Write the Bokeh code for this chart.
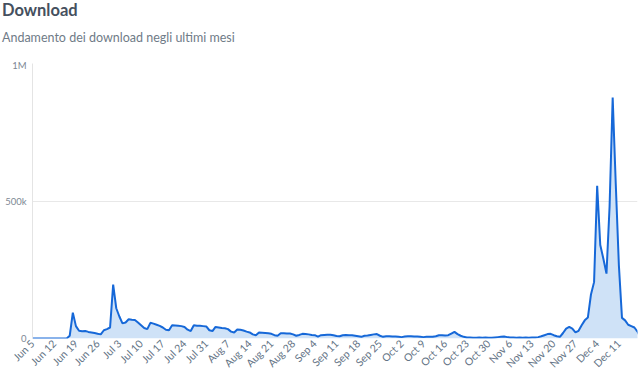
import datetime as dt
from bokeh.plotting import figure
from bokeh.models import Div, FixedTicker, DatetimeTickFormatter, Range1d, ColumnDataSource
from bokeh.layouts import column
from bokeh.embed import file_html
from bokeh.resources import INLINE

start_date = dt.date(2017, 6, 5)
end_date = dt.date(2017, 12, 17)

downloads_k = [
    0, 0, 0, 0, 0, 0, 0, 0, 0, 0, 0, 0, 10, 94, 45, 28, 26, 27, 24, 22, 20, 17,
    15, 30, 34, 40, 196, 110, 80, 55, 58, 70, 68, 67, 58, 48, 38, 34, 57, 54,
    50, 46, 40, 32, 30, 48, 47, 46, 45, 42, 32, 27, 48, 46, 46, 45, 44, 30, 27,
    42, 40, 38, 37, 34, 25, 22, 33, 32, 29, 25, 22, 15, 12, 22, 21, 20, 19, 17,
    12, 10, 19, 19, 18, 18, 15, 10, 13, 17, 16, 15, 13, 12, 7, 12, 13, 14, 14,
    12, 9, 8, 12, 13, 12, 12, 10, 8, 6, 10, 11, 13, 15, 16, 10, 6, 8, 8, 7, 7,
    6, 5, 7, 8, 8, 7, 7, 6, 5, 6, 6, 6, 8, 12, 12, 11, 12, 18, 24, 16, 10, 6, 4,
    4, 3, 3, 4, 3, 4, 3, 3, 4, 5, 6, 7, 5, 4, 4, 3, 4, 3, 4, 3, 4, 4, 5, 8, 12,
    16, 17, 12, 8, 6, 20, 36, 42, 36, 22, 28, 48, 66, 76, 160, 205, 555, 340,
    290, 236, 480, 876, 560, 266, 75, 66, 50, 45, 40, 25, 3,
]

dates = [start_date + dt.timedelta(days=i) for i in range(len(downloads_k))]
values = [v * 1000 for v in downloads_k]

tick_dates = [start_date + dt.timedelta(days=7 * i) for i in range(28)]
y_ticks = [0, 500000, 1000000]
y_tick_labels = {0: "0", 500000: "500k", 1000000: "1M"}

title_text = "Download"
subtitle_text = "Andamento dei download negli ultimi mesi"

header = Div(
    text=(
        '<div style="font-family:Lato;margin:0;padding:0">'
        '<div style="margin:0 0 0 2px;font-size:16.5px;line-height:20px;font-weight:bold;'
        'color:#45505e;white-space:nowrap">' + title_text + '</div>'
        '<div style="margin:10px 0 0 2px;font-size:12.5px;line-height:15px;font-weight:normal;'
        'color:#6f7b87;white-space:nowrap">' + subtitle_text + '</div>'
        '</div>'
    ),
    width=640, height=59, margin=(0, 0, 0, 0),
)

src = ColumnDataSource(dict(x=[dt.datetime.combine(d, dt.time()) for d in dates], y=values))

p = figure(width=640, height=317, x_axis_type="datetime", output_backend="svg",
           toolbar_location=None, title=None, margin=(0, 0, 0, 0),
           x_range=Range1d(dt.datetime.combine(start_date, dt.time()),
                           dt.datetime.combine(end_date, dt.time())),
           y_range=Range1d(0, 1000000),
           min_border_left=32, min_border_right=3, min_border_top=4, min_border_bottom=36)
p.outline_line_color = None
p.background_fill_color = "white"
p.border_fill_color = "white"

p.varea(x="x", y1=0, y2="y", source=src, fill_color="#cfe2f7", fill_alpha=1.0)
p.line(x="x", y="y", source=src, line_color="#1668d8", line_width=2)

tick_ms = [dt.datetime.combine(d, dt.time()).timestamp() * 1000 for d in tick_dates]
p.xaxis.ticker = FixedTicker(ticks=tick_ms)
p.xaxis.formatter = DatetimeTickFormatter(days="%b %-d", months="%b %-d", hours="%b %-d")
p.xaxis.major_label_orientation = 0.785398
p.xaxis.major_label_text_font = "Lato"
p.xaxis.major_label_text_font_size = "10.5px"
p.xaxis.major_label_text_color = "#637385"
p.xaxis.axis_line_color = None
p.xaxis.major_tick_line_color = None
p.xaxis.minor_tick_line_color = None
p.xaxis.major_tick_out = 0
p.xaxis.major_label_standoff = 3

p.yaxis.ticker = FixedTicker(ticks=y_ticks)
p.yaxis.major_label_overrides = y_tick_labels
p.yaxis.major_label_text_font = "Lato"
p.yaxis.major_label_text_font_size = "9.5px"
p.yaxis.major_label_text_color = "#7d8894"
p.yaxis.axis_line_color = "#e4e4e4"
p.yaxis.major_tick_line_color = None
p.yaxis.minor_tick_line_color = None
p.yaxis.major_tick_out = 0
p.yaxis.major_label_standoff = 6

p.xgrid.grid_line_color = None
p.ygrid.grid_line_color = "#e8e8e8"
p.ygrid.ticker = FixedTicker(ticks=y_ticks)

layout = column(header, p, spacing=0, margin=(0, 0, 0, 0))

open("out.html", "w").write(file_html(layout, INLINE))
